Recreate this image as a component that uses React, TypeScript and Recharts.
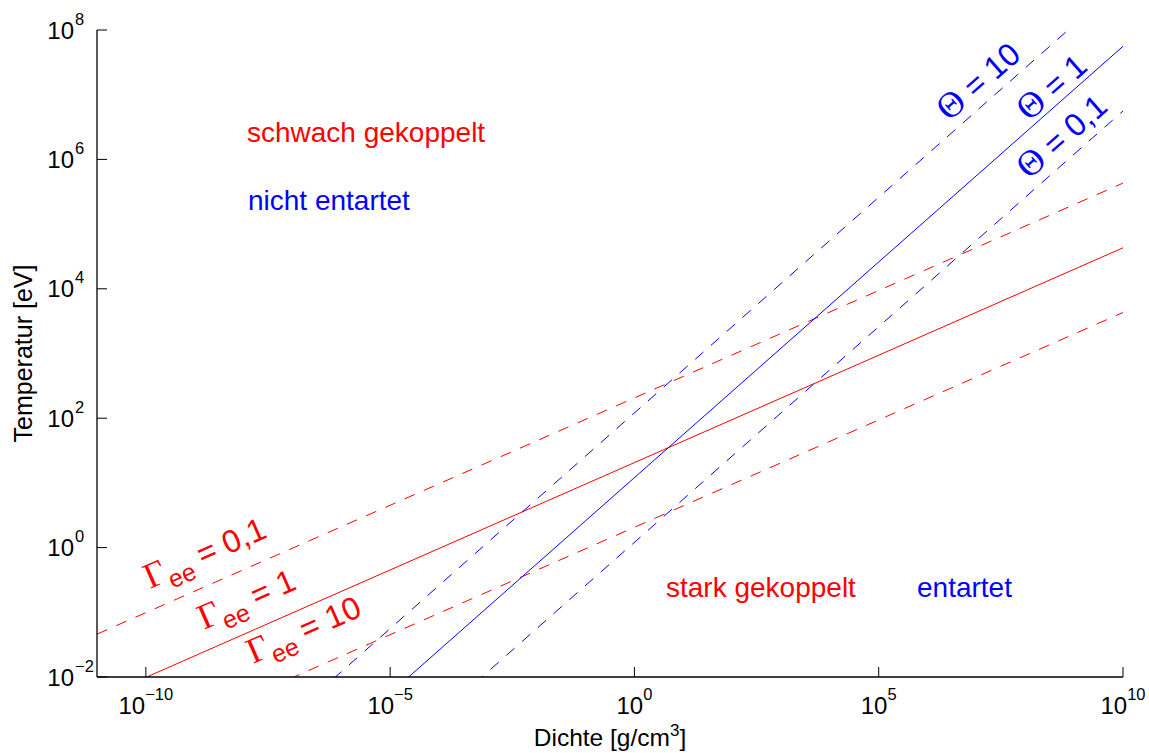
import React from 'react';
import { LineChart, Line, XAxis, YAxis } from 'recharts';

// Achsen (log-log)
const xDomain = [1e-11, 1e10];
const yDomain = [1e-2, 1e8];
const xTicks = [1e-10, 1e-5, 1, 1e5, 1e10];
const yTicks = [1e-2, 1, 1e2, 1e4, 1e6, 1e8];

// Kopplungsparameter Gamma_ee (rot)
const gamma01 = [{ x: 1e-11, y: 0.046 }, { x: 1e10, y: 4.3e5 }];
const gamma1 = [{ x: 1e-11, y: 0.0046 }, { x: 1e10, y: 4.3e4 }];
const gamma10 = [{ x: 1e-11, y: 0.00046 }, { x: 1e10, y: 4.3e3 }];

// Entartungsparameter Theta (blau)
const theta10 = [{ x: 1e-11, y: 5.6e-6 }, { x: 1e10, y: 5.6e8 }];
const theta1 = [{ x: 1e-11, y: 5.6e-7 }, { x: 1e10, y: 5.6e7 }];
const theta01 = [{ x: 1e-11, y: 5.6e-8 }, { x: 1e10, y: 5.6e6 }];

const RED = '#ff0000';
const BLUE = '#0000ff';
const FONT = '"Liberation Sans", Arial, Helvetica, sans-serif';
const SERIF = '"Liberation Serif", "Times New Roman", serif';
const DASH = '11 10';

const expText = (v: number) => {
  const e = Math.round(Math.log10(v));
  return e < 0 ? '\u2212' + Math.abs(e) : String(e);
};

const XTick = (props: any) => {
  const { x, y, payload } = props;
  return (
    <g>
      <line x1={x} x2={x} y1={y} y2={y - 10} stroke="#000" />
      <text x={x} y={y + 37} textAnchor="middle" fontFamily={FONT} fontSize={24} fill="#000">
        <tspan>10</tspan>
        <tspan dy={-14} fontSize={16.5}>{expText(payload.value)}</tspan>
      </text>
    </g>
  );
};

const YTick = (props: any) => {
  const { x, y, payload } = props;
  return (
    <g>
      <line x1={x} x2={x + 10} y1={y} y2={y} stroke="#000" />
      <text x={x - 23} y={y + 8.5} textAnchor="end" fontFamily={FONT} fontSize={24} fill="#000">10</text>
      <text x={x - 22} y={y - 5.5} fontFamily={FONT} fontSize={16.5} fill="#000">{expText(payload.value)}</text>
    </g>
  );
};

const XTitle = (props: any) => {
  const { x, width } = props.viewBox;
  return (
    <text x={x + width / 2} y={746} textAnchor="middle" fontFamily={FONT} fontSize={24.5} fill="#000">
      <tspan>Dichte [g/cm</tspan>
      <tspan dy={-10} fontSize={17}>3</tspan>
      <tspan dy={10}>]</tspan>
    </text>
  );
};

const YTitle = (props: any) => {
  const { y, height } = props.viewBox;
  const cy = y + height / 2;
  return (
    <text x={32} y={cy} transform={`rotate(-90 32 ${cy})`} textAnchor="middle" fontFamily={FONT} fontSize={25} fill="#000">
      Temperatur [eV]
    </text>
  );
};

const RotLabel = ({ x, y, angle, color, sym, sub, rest }: any) => (
  <text
    transform={`translate(${x} ${y}) rotate(${-angle})`}
    fill={color}
    fontSize={32}
    fontFamily={FONT}
    style={{ whiteSpace: 'pre' }}
  >
    <tspan fontFamily={SERIF} fontSize={36}>{sym}</tspan>
    {sub && <tspan dy={9} fontSize={25}>{sub}</tspan>}
    <tspan dy={sub ? -9 : 0}>{rest}</tspan>
  </text>
);

export default function App() {
  return (
    <div style={{ position: 'absolute', left: 0, top: 0, width: 1149, height: 753, background: '#fff' }}>
      <LineChart width={1149} height={753} margin={{ top: 30, right: 26, bottom: 46, left: 37 }}>
        <XAxis
          dataKey="x"
          type="number"
          scale="log"
          domain={xDomain}
          allowDataOverflow
          ticks={xTicks}
          interval={0}
          height={30}
          tickSize={0}
          tickMargin={0}
          tickLine={false}
          tick={<XTick />}
          stroke="#000"
          strokeWidth={1.3}
          label={{ content: <XTitle /> }}
        />
        <XAxis
          xAxisId="top"
          orientation="top"
          type="number"
          scale="log"
          domain={xDomain}
          allowDataOverflow
          ticks={xTicks}
          interval={0}
          height={0}
          mirror
          tick={false}
          tickSize={10}
          stroke="#000"
          strokeWidth={1.3}
        />
        <YAxis
          dataKey="y"
          type="number"
          scale="log"
          domain={yDomain}
          allowDataOverflow
          ticks={yTicks}
          interval={0}
          width={60}
          tickSize={0}
          tickMargin={0}
          tickLine={false}
          tick={<YTick />}
          stroke="#000"
          strokeWidth={1.3}
          label={{ content: <YTitle /> }}
        />
        <YAxis
          yAxisId="right"
          orientation="right"
          type="number"
          scale="log"
          domain={yDomain}
          allowDataOverflow
          ticks={yTicks}
          interval={0}
          width={0}
          mirror
          tick={false}
          tickSize={10}
          stroke="#000"
          strokeWidth={1.3}
        />
        <Line data={gamma01} dataKey="y" type="linear" stroke={RED} strokeWidth={1} strokeDasharray={DASH} dot={false} isAnimationActive={false} />
        <Line data={gamma1} dataKey="y" type="linear" stroke={RED} strokeWidth={1} dot={false} isAnimationActive={false} />
        <Line data={gamma10} dataKey="y" type="linear" stroke={RED} strokeWidth={1} strokeDasharray={DASH} dot={false} isAnimationActive={false} />
        <Line data={theta10} dataKey="y" type="linear" stroke={BLUE} strokeWidth={1} strokeDasharray={DASH} dot={false} isAnimationActive={false} />
        <Line data={theta1} dataKey="y" type="linear" stroke={BLUE} strokeWidth={1} dot={false} isAnimationActive={false} />
        <Line data={theta01} dataKey="y" type="linear" stroke={BLUE} strokeWidth={1} strokeDasharray={DASH} dot={false} isAnimationActive={false} />
      </LineChart>
      <svg width={1149} height={753} style={{ position: 'absolute', left: 0, top: 0, pointerEvents: 'none' }}>
        <g fontFamily={FONT} fontSize={28}>
          <text x={247} y={142} fill={RED}>schwach gekoppelt</text>
          <text x={248} y={210} fill={BLUE}>nicht entartet</text>
          <text x={666} y={597} fill={RED}>stark gekoppelt</text>
          <text x={917} y={597} fill={BLUE}>entartet</text>
        </g>
        <RotLabel x={150} y={589} angle={23.8} color={RED} sym={'\u0393'} sub="ee" rest=" = 0,1" />
        <RotLabel x={204} y={630} angle={23.8} color={RED} sym={'\u0393'} sub="ee" rest=" = 1" />
        <RotLabel x={253} y={664} angle={23.8} color={RED} sym={'\u0393'} sub="ee" rest=" = 10" />
        <RotLabel x={949} y={122} angle={41.4} color={BLUE} sym={'\u0398'} rest=" = 10" />
        <RotLabel x={1029} y={122} angle={41.4} color={BLUE} sym={'\u0398'} rest=" = 1" />
        <RotLabel x={1029} y={180} angle={41.4} color={BLUE} sym={'\u0398'} rest=" = 0,1" />
      </svg>
    </div>
  );
}
